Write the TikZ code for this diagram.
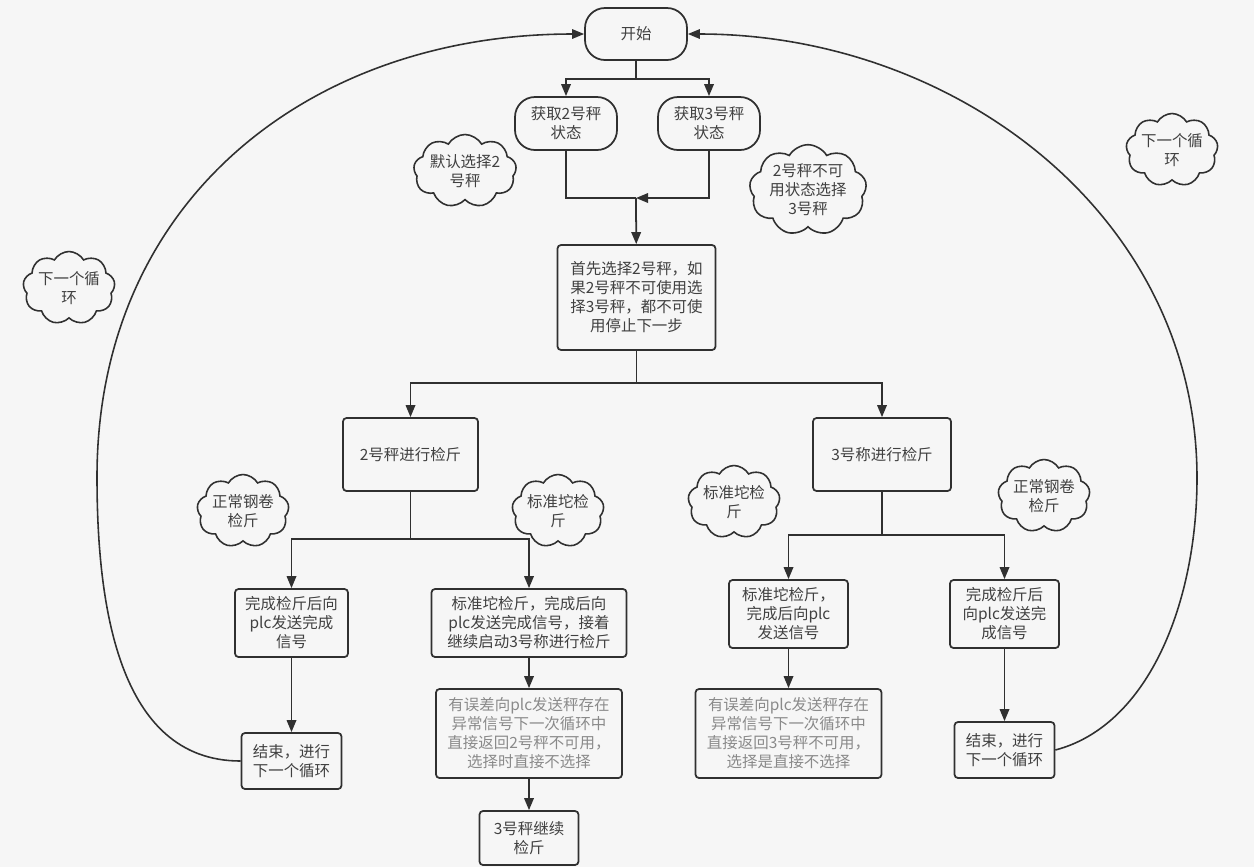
\documentclass[tikz,border=0pt]{standalone}
\usepackage{fontspec}
\newfontfamily\cjk{Noto Sans CJK SC}
\usetikzlibrary{arrows.meta,shapes.symbols}
\definecolor{paper}{HTML}{F6F6F6}
\definecolor{ink}{HTML}{303030}
\definecolor{txt}{HTML}{404040}
\definecolor{faint}{HTML}{8A8A8A}

\begin{document}
\begin{tikzpicture}[
        x=0.02cm, y=-0.02cm,
        every node/.style={font=\cjk\fontsize{8.8}{10.8}\selectfont, text=txt, align=center, inner sep=1pt},
        sz/.style 2 args={minimum width=#1*0.02cm, minimum height=#2*0.02cm},
        pill/.style={draw=ink, line width=1pt, rounded corners=0.4cm},
        box/.style={draw=ink, line width=1pt, rounded corners=2pt},
        note/.style={cloud, cloud puffs=9, cloud puff arc=120, cloud ignores aspect,
            draw=ink, line width=0.9pt, inner sep=0pt, sz={92}{73}},
        wire/.style={draw=ink, line width=1pt},
        link/.style={wire, -{Triangle[length=2.4mm, width=1.9mm]}},
        back/.style={link, line width=0.9pt}
    ]

    \fill[paper] (0,0) rectangle (1254,867);

    % Top part
    \node[pill, sz={102}{52}] (start) at (636,34) {开始};
    \node[pill, sz={102}{53}] (get2) at (566,123.5) {获取2号秤\\状态};
    \node[pill, sz={102}{53}] (get3) at (709,123.5) {获取3号秤\\状态};
    \node[box, sz={158}{105}] (plan) at (636.5,297.5)
        {首先选择2号秤，如\\果2号秤不可使用选\\择3号秤，都不可使\\用停止下一步};

    \coordinate (s0) at (636,79);
    \coordinate (m0) at (636,198);
    \draw[wire] (start) -- (s0);
    \draw[link] (s0) -| (get2);
    \draw[link] (s0) -| (get3);
    \draw[wire] (get2) |- (m0);
    \draw[link] (get3) |- (m0);
    \draw[link] (m0) -- (plan);

    % Weighing
    \node[box, sz={135}{73}] (chk2) at (410.5,454.5) {2号秤进行检斤};
    \node[box, sz={138}{73}] (chk3) at (882,454.5) {3号称进行检斤};
    \coordinate (s1) at (636.5,383);
    \draw[wire] (plan) -- (s1);
    \draw[link] (s1) -| (chk2);
    \draw[link] (s1) -| (chk3);

    % Left branch
    \node[box, sz={113}{68}] (a1) at (291.5,623) {完成检斤后向\\plc发送完成\\信号};
    \node[box, sz={195}{68}] (a2) at (529,623)
        {标准坨检斤，完成后向\\plc发送完成信号，接着\\继续启动3号称进行检斤};
    \node[box, sz={100}{56}] (endA) at (291.5,761) {结束，进行\\下一个循环};
    \node[box, sz={186}{89}, text=faint] (errA) at (529,733.5)
        {有误差向plc发送秤存在\\异常信号下一次循环中\\直接返回2号秤不可用，\\选择时直接不选择};
    \node[box, sz={99}{54}] (cont) at (529,838) {3号秤继续\\检斤};

    \coordinate (s2) at (410.5,539);
    \draw[wire] (chk2) -- (s2);
    \draw[link] (s2) -| (a1);
    \draw[link] (s2) -| (a2);
    \draw[link] (a1) -- (endA);
    \draw[link] (a2) -- (errA);
    \draw[link] (errA) -- (cont);

    % Right branch
    \node[box, sz={119}{68}] (b1) at (788.5,614) {标准坨检斤，\\完成后向plc\\发送信号};
    \node[box, sz={109}{68}] (b2) at (1004.5,614) {完成检斤后\\向plc发送完\\成信号};
    \node[box, sz={186}{89}, text=faint] (errB) at (788.5,733.5)
        {有误差向plc发送秤存在\\异常信号下一次循环中\\直接返回3号秤不可用，\\选择是直接不选择};
    \node[box, sz={100}{56}] (endB) at (1004.5,750) {结束，进行\\下一个循环};

    \coordinate (s3) at (882,535);
    \draw[wire] (chk3) -- (s3);
    \draw[link] (s3) -| (b1);
    \draw[link] (s3) -| (b2);
    \draw[link] (b1) -- (errB);
    \draw[link] (b2) -- (endB);

    % Back to start
    \draw[back] (endA.west) .. controls (117,761) and (97,602) .. (97,477)
        .. controls (97,200) and (310,34) .. (start.west);
    \draw[back] (endB.east) .. controls (1150,725) and (1197,600) .. (1197,478)
        .. controls (1197,215) and (955,34) .. (start.east);

    % Clouds
    \foreach \nm/\px/\py/\txt in {c1/465/171/默认选择2\\号秤, c3/69/288/下一个循\\环,
            c4/1172/150/下一个循\\环, c5/243/511/正常钢卷\\检斤, c6/558/511/标准坨检\\斤,
            c7/734/502/标准坨检\\斤, c8/1044/496/正常钢卷\\检斤}
        \node[note] (\nm) at (\px,\py) {\txt};
    \node[note, sz={99}{80}] (c2) at (808,190) {2号秤不可\\用状态选择\\3号秤};

\end{tikzpicture}
\end{document}
